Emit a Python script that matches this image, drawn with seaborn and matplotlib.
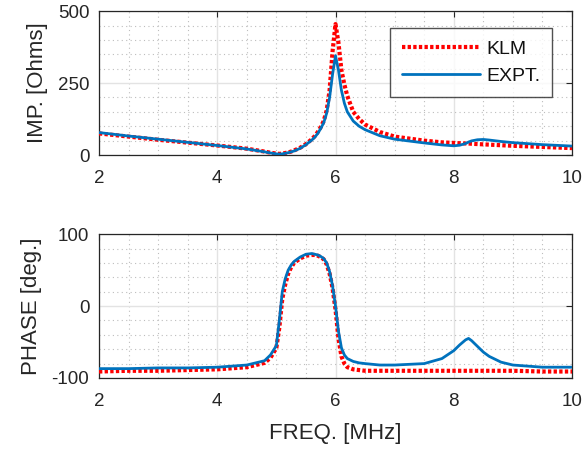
import numpy as np
import pandas as pd
import matplotlib
matplotlib.use("Agg")
import matplotlib.pyplot as plt
import seaborn as sns
from matplotlib.ticker import MultipleLocator

freq = [2.0, 2.5, 3.0, 3.5, 4.0, 4.5, 4.8, 4.9, 5.0, 5.05, 5.1,
        5.15, 5.2, 5.25, 5.3, 5.4, 5.5, 5.6, 5.65, 5.7, 5.75,
        5.8, 5.85, 5.9, 5.95, 6.0, 6.05, 6.1, 6.15, 6.2, 6.3,
        6.4, 6.5, 6.75, 7.0, 7.5, 7.8, 8.0, 8.1, 8.2, 8.25,
        8.3, 8.4, 8.5, 8.6, 8.8, 9.0, 9.5, 10.0]

klm_imp = [75, 64, 53, 43, 33, 22, 12, 8, 5, 4, 5,
           7, 9, 12, 16, 25, 38, 55, 66, 80, 97,
           118, 155, 225, 360, 455, 390, 295, 245, 205, 150,
           125, 106, 80, 64, 50, 44, 42, 41, 40, 40,
           39, 38, 37, 36, 34, 32, 28, 24]

expt_imp = [78, 66, 55, 44, 33, 21, 11, 7, 4, 3, 4,
            6, 8, 11, 14, 23, 36, 52, 62, 75, 92,
            112, 145, 200, 280, 345, 295, 225, 180, 150, 118,
            100, 88, 67, 55, 42, 35, 32, 34, 40, 45,
            49, 53, 54, 52, 47, 43, 36, 31]

klm_phase = [-91, -90, -90, -89, -88, -85, -79, -72, -58, -30, 10,
             30, 45, 54, 60, 66, 70, 71, 71, 70, 68,
             65, 58, 45, 25, -5, -45, -70, -80, -85, -88,
             -89, -90, -90, -90, -90, -90, -90, -90, -90, -90,
             -90, -90, -90, -90, -90, -90, -91, -91]

expt_phase = [-87, -87, -86, -86, -85, -82, -76, -68, -55, -20, 20,
              38, 50, 57, 62, 68, 72, 73, 72, 71, 69,
              66, 60, 48, 28, 0, -35, -58, -68, -73, -77,
              -79, -80, -82, -82, -80, -73, -62, -54, -47, -45,
              -48, -56, -64, -70, -78, -82, -85, -85]

xticks = [2, 4, 6, 8, 10]
imp_ticks = [0, 250, 500]
phase_ticks = [-100, 0, 100]

sns.set_style("white")
plt.rcParams['font.family'] = ['Liberation Sans', 'DejaVu Sans']
plt.rcParams['axes.unicode_minus'] = False

TXT = '#262626'
RED = '#ff0000'
BLUE = '#0072bd'

fig = plt.figure(figsize=(5.84, 4.51), dpi=100)
ax1 = fig.add_axes([0.1695, 0.6563, 0.810, 0.319])
ax2 = fig.add_axes([0.1695, 0.1619, 0.810, 0.319])

df = pd.DataFrame({'freq': freq, 'klm_imp': klm_imp, 'expt_imp': expt_imp,
                   'klm_phase': klm_phase, 'expt_phase': expt_phase})

for ax, (ky, ey), yt, ylab, ylim, minor in [
        (ax1, ('klm_imp', 'expt_imp'), imp_ticks, 'IMP. [Ohms]', (0, 500), 50),
        (ax2, ('klm_phase', 'expt_phase'), phase_ticks, 'PHASE [deg.]', (-100, 100), 20)]:
    sns.lineplot(data=df, x='freq', y=ky, ax=ax, color=RED, linewidth=3.0,
                 label='KLM', zorder=3)
    ax.lines[-1].set_dashes((0.8, 0.55))
    ax.lines[-1].set_dash_capstyle('butt')
    sns.lineplot(data=df, x='freq', y=ey, ax=ax, color=BLUE, linewidth=2.0,
                 label='EXPT.', zorder=4)
    ax.set_xlim(2, 10)
    ax.set_ylim(*ylim)
    ax.set_xticks(xticks)
    ax.set_yticks(yt)
    ax.xaxis.set_minor_locator(MultipleLocator(0.5))
    ax.yaxis.set_minor_locator(MultipleLocator(minor))
    ax.grid(True, which='major', color='#e3e3e3', linewidth=1.0, linestyle='-')
    ax.grid(True, which='minor', color='#bdbdbd', linewidth=0.8, linestyle=(0, (1, 3)))
    ax.set_axisbelow(True)
    ax.tick_params(which='major', direction='in', length=4, width=0.8, colors=TXT,
                   labelsize=13.5, top=True, right=True)
    ax.tick_params(axis='x', which='major', pad=11)
    ax.tick_params(axis='y', which='major', pad=7)
    ax.tick_params(which='minor', length=0)
    for s in ax.spines.values():
        s.set_color(TXT)
        s.set_linewidth(0.9)
        s.set_visible(True)
    ax.set_ylabel(ylab, fontsize=16, color=TXT, labelpad=7)
    ax.set_xlabel('')

ax2.set_xlabel('FREQ. [MHz]', fontsize=16, color=TXT, labelpad=9)
ax2.get_legend().remove()
leg = ax1.legend(loc='upper right', bbox_to_anchor=(0.958, 0.88), fontsize=14,
                 frameon=True, fancybox=False, edgecolor='#262626', handlelength=4.0,
                 handletextpad=0.35, borderpad=0.6, labelspacing=0.5, borderaxespad=0)
leg.get_frame().set_linewidth(1.0)
for t in leg.get_texts():
    t.set_color('#111111')

fig.savefig('out.png', dpi=100)
